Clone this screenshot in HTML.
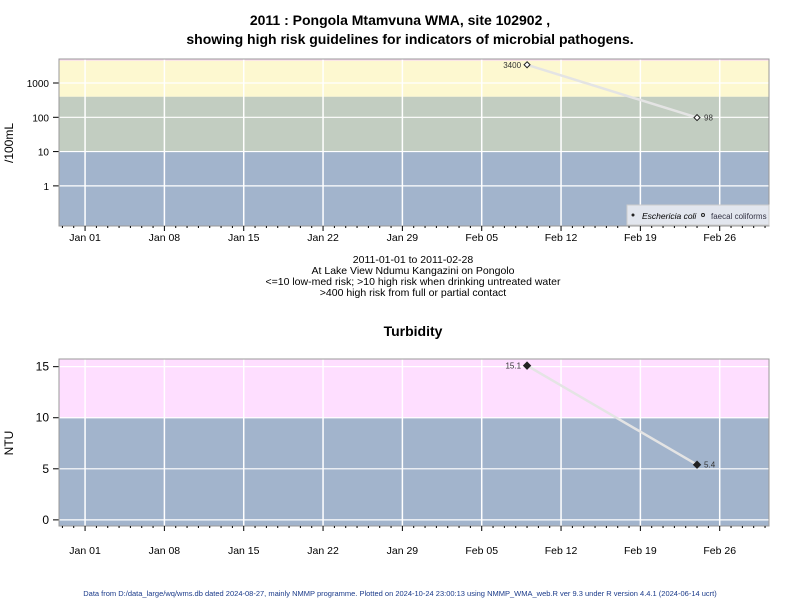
<!DOCTYPE html>
<html><head><meta charset="utf-8"><style>
body{margin:0;background:#fff;font-family:"Liberation Sans",sans-serif}
svg text{font-family:"Liberation Sans",sans-serif}
</style></head><body>
<svg id="c" width="800" height="600" xmlns="http://www.w3.org/2000/svg">
<text x="400" y="25" text-anchor="middle" font-size="14" font-weight="bold">2011 : Pongola Mtamvuna WMA, site 102902 ,</text>
<text x="410" y="44" text-anchor="middle" font-size="14" font-weight="bold">showing high risk guidelines for indicators of microbial pathogens.</text>
<g font-size="10.5" text-anchor="middle">
<text x="413" y="263">2011-01-01 to 2011-02-28</text>
<text x="413" y="274">At Lake View Ndumu Kangazini on Pongolo</text>
<text x="413" y="285">&lt;=10 low-med risk; &gt;10 high risk when drinking untreated water</text>
<text x="413" y="296">&gt;400 high risk from full or partial contact</text>
</g>
<text x="413" y="336" text-anchor="middle" font-size="14" font-weight="bold">Turbidity</text>
<text x="400" y="596" text-anchor="middle" font-size="7.5" fill="#1a3a8a">Data from D:/data_large/wq/wms.db dated 2024-08-27, mainly NMMP programme. Plotted on 2024-10-24 23:00:13 using NMMP_WMA_web.R ver 9.3 under R version 4.4.1 (2024-06-14 ucrt)</text>
<text transform="translate(13,143) rotate(-90)" text-anchor="middle" font-size="12">/100mL</text>
<text transform="translate(13,443) rotate(-90)" text-anchor="middle" font-size="12">NTU</text>
<g id="p1"></g><g id="p2"></g>
</svg>
<script>
const dates=[39,54]; // days since 2011-01-01 (Feb 09, Feb 24)
const faecal=[3400,98];
const turbidity=[15.1,5.4];
const tickLabels=["Jan 01","Jan 08","Jan 15","Jan 22","Jan 29","Feb 05","Feb 12","Feb 19","Feb 26"];
const logTicks=[1,10,100,1000];
const ntuTicks=[0,5,10,15];
const NS="http://www.w3.org/2000/svg";
const X0=59,X1=769,D0=-2.3,D1=60.35;
const xs=d=>X0+(d-D0)/(D1-D0)*(X1-X0);
function mk(p,t,a){const e=document.createElementNS(NS,t);for(const k in a)e.setAttribute(k,a[k]);p.appendChild(e);return e;}
function panel(g,top,bot,ys,bands,yt,ylab,tfs,vals,fill,nm){
  for(const b of bands){const r=mk(g,'rect',{x:X0,y:ys(b[1]),width:X1-X0,height:ys(b[0])-ys(b[1]),fill:b[2]});
    
    }
  tickLabels.forEach((l,i)=>{const x=xs(i*7);mk(g,'line',{x1:x,x2:x,y1:top,y2:bot,stroke:'#fff','stroke-width':1.5});});
  yt.forEach(v=>{const y=ys(v);mk(g,'line',{x1:X0,x2:X1,y1:y,y2:y,stroke:'#fff','stroke-width':1.2});
    mk(g,'line',{x1:X0-6,x2:X0,y1:y,y2:y,stroke:'#000'});
    const t=mk(g,'text',{x:X0-10,y:y+4,'text-anchor':'end','font-size':tfs});t.textContent=ylab(v);
    
    });
  mk(g,'rect',{x:X0,y:top,width:X1-X0,height:bot-top,fill:'none',stroke:'#999'});
  for(let d=-2;d<=60;d++){const x=xs(d);mk(g,'line',{x1:x,x2:x,y1:bot,y2:bot+(d%7==0?5:2),stroke:'#000'});}
  tickLabels.forEach((l,i)=>{const t=mk(g,'text',{x:xs(i*7),y:bot+(nm=='micro'?15:28),'text-anchor':'middle','font-size':10.5});t.textContent=l;
    
    });
  const pts=vals.map((v,i)=>[xs(dates[i]),ys(v)]);
  const ln=mk(g,'polyline',{points:pts.map(p=>p.join(',')).join(' '),fill:'none',stroke:'#e4e4e4','stroke-width':2.5});
  
  
  pts.forEach((p,i)=>{const s=fill?3.5:3;const m=mk(g,'polygon',{points:`${p[0]},${p[1]-s} ${p[0]+s},${p[1]} ${p[0]},${p[1]+s} ${p[0]-s},${p[1]}`,fill:fill?'#222':'#fff',stroke:'#222','stroke-width':1});
    
    
    const t=mk(g,'text',{x:i==0?p[0]-6:p[0]+7,y:p[1]+3,'text-anchor':i==0?'end':'start','font-size':8,fill:'#333'});t.textContent=vals[i];
    
    });
}
const g1=document.getElementById('p1'),g2=document.getElementById('p2');


const ys1=v=>226-(Math.log10(v)+1.17)/(3.7+1.17)*167;
panel(g1,59,226,ys1,[[0.0676,10,'#a2b4cc','low-risk-band'],[10,400,'#c2cdc1','drinking-risk-band'],[400,4500,'#fdf8d0','contact-risk-band'],[4500,5012,'#f9d8f0','top-band']],logTicks,v=>v,10,faecal,false,'micro');
const ys2=v=>526-(v+0.6)/(15.75+0.6)*167;
panel(g2,359,526,ys2,[[-0.6,10,'#a2b4cc','low-turbidity-band'],[10,15.75,'#fedeff','high-turbidity-band']],ntuTicks,v=>v,12,turbidity,true,'turbidity');
// legend
const lg=mk(g1,'g',{});


mk(lg,'rect',{x:627,y:205,width:142,height:20,fill:'#e2e6ee',stroke:'#ccc'});
mk(lg,'circle',{cx:633,cy:215,r:1.5,fill:'#222'});
const t1=mk(lg,'text',{x:642,y:219,'font-size':8.5,'font-style':'italic'});t1.textContent='Eschericia coli';
mk(lg,'circle',{cx:703,cy:215,r:1.5,fill:'none',stroke:'#222'});
const t2=mk(lg,'text',{x:711,y:219,'font-size':8,fill:'#334'});t2.textContent='faecal coliforms';
</script>
</body></html>
